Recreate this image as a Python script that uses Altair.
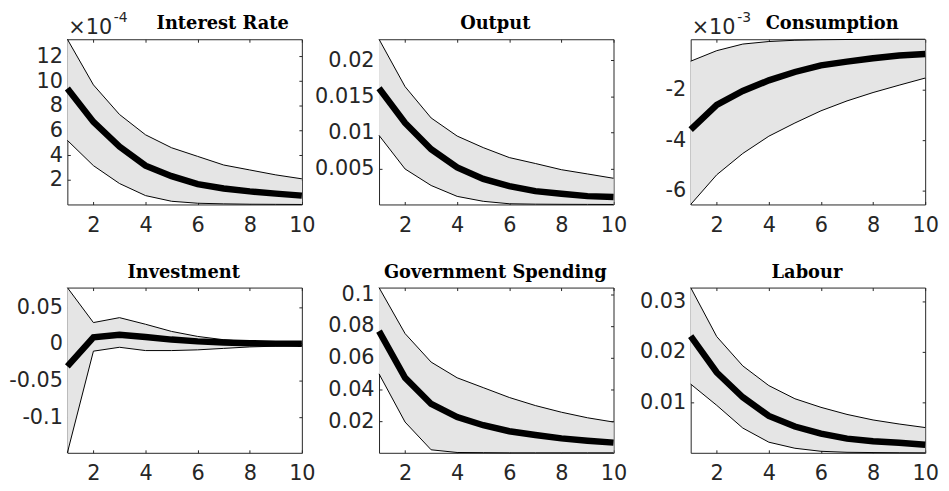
import altair as alt
import pandas as pd

steps = list(range(1, 11))

# Interest Rate (values in units of 1e-4)
ir_mean = [9.4, 6.7, 4.7, 3.15, 2.3, 1.65, 1.3, 1.06, 0.88, 0.72]
ir_low = [5.2, 3.15, 1.7, 0.72, 0.26, 0.1, 0.05, 0.02, 0.01, 0.0]
ir_up = [13.4, 9.7, 7.3, 5.65, 4.6, 3.9, 3.2, 2.8, 2.4, 2.08]
ir_ticks = [2, 4, 6, 8, 10, 12]

# Output
out_mean = [0.0161, 0.0113, 0.00766, 0.00514, 0.00355, 0.00253, 0.00185, 0.00149, 0.00116, 0.00103]
out_low = [0.00958, 0.00492, 0.00263, 0.00112, 0.00044, 0.0001, 0.00004, 0.00002, 0.00001, 0.0]
out_up = [0.0229, 0.01633, 0.01199, 0.00948, 0.00788, 0.0065, 0.00568, 0.00482, 0.00423, 0.00363]
out_ticks = [0.005, 0.01, 0.015, 0.02]

# Consumption (values in units of 1e-3)
con_mean = [-3.58, -2.61, -2.06, -1.64, -1.31, -1.05, -0.90, -0.77, -0.66, -0.60]
con_low = [-6.53, -5.36, -4.52, -3.84, -3.32, -2.84, -2.45, -2.12, -1.83, -1.55]
con_up = [-0.885, -0.47, -0.21, -0.11, -0.06, -0.04, -0.03, -0.025, -0.02, -0.02]
con_ticks = [-6, -4, -2]

# Investment
inv_mean = [-0.0305, 0.009, 0.0125, 0.0095, 0.006, 0.0035, 0.002, 0.001, 0.0005, 0.0003]
inv_low = [-0.1484, -0.0098, -0.0045, -0.009, -0.009, -0.008, -0.006, -0.004, -0.003, -0.002]
inv_up = [0.0769, 0.0292, 0.0359, 0.0269, 0.0171, 0.0103, 0.0058, 0.003, 0.0015, 0.001]
inv_ticks = [-0.1, -0.05, 0, 0.05]

# Government Spending
gov_mean = [0.0767, 0.0473, 0.0308, 0.0225, 0.0174, 0.0136, 0.0112, 0.0091, 0.0076, 0.0064]
gov_low = [0.0498, 0.0194, 0.0019, 0.0002, 0.0001, 0.0, 0.0, 0.0, 0.0, 0.0]
gov_up = [0.1042, 0.0752, 0.0572, 0.0473, 0.0411, 0.0349, 0.0298, 0.0256, 0.0221, 0.0194]
gov_ticks = [0.02, 0.04, 0.06, 0.08, 0.1]

# Labour
lab_mean = [0.0231, 0.0159, 0.0110, 0.0073, 0.0052, 0.0038, 0.0028, 0.0023, 0.0020, 0.0016]
lab_low = [0.0136, 0.0094, 0.0049, 0.0021, 0.0009, 0.0003, 0.0001, 0.00005, 0.00002, 0.0]
lab_up = [0.0327, 0.0230, 0.0172, 0.0133, 0.0107, 0.0090, 0.0076, 0.0065, 0.0057, 0.0050]
lab_ticks = [0.01, 0.02, 0.03]

x_ticks = [2, 4, 6, 8, 10]

AX = "#262626"
TICK = 3
W, H = 237, 167
SANS = "DejaVu Sans"


def panel(name, mean, low, up, yticks, title_x=117.5, exponent=None):
    df = pd.DataFrame({"h": steps, "mean": mean, "low": low, "up": up})
    base = alt.Chart(df)
    xs = alt.Scale(domain=[1, 10], nice=False, zero=False)
    ys = alt.Scale(nice=False, zero=False)
    x_axis = alt.Axis(values=x_ticks, title=None, domain=False, tickSize=TICK, offset=-TICK,
                      labelPadding=10, labelFlush=False, labelOverlap=False)
    y_axis = alt.Axis(values=yticks, title=None, domain=False, tickSize=TICK, offset=-TICK,
                      labelPadding=5, labelFlush=False, labelOverlap=False,
                      labelExpr="'' + datum.value")
    area = base.mark_area(color="#e5e5e5", opacity=1).encode(
        x=alt.X("h:Q", scale=xs, axis=x_axis),
        y=alt.Y("low:Q", scale=ys, axis=y_axis),
        y2="up:Q",
    )
    lo = base.mark_line(color="black", strokeWidth=1).encode(
        x=alt.X("h:Q", axis=None), y=alt.Y("low:Q", axis=None))
    hi = base.mark_line(color="black", strokeWidth=1).encode(
        x=alt.X("h:Q", axis=None), y=alt.Y("up:Q", axis=None))
    mn = base.mark_line(color="black", strokeWidth=6.5).encode(
        x=alt.X("h:Q", axis=None), y=alt.Y("mean:Q", axis=None))
    frame = base.mark_point(opacity=0).encode(
        x=alt.X("h:Q", axis=alt.Axis(orient="top", values=x_ticks, labels=False, title=None,
                                     domain=False, tickSize=TICK, offset=-TICK)),
        y=alt.Y("mean:Q", axis=alt.Axis(orient="right", values=yticks, labels=False, title=None,
                                        domain=False, tickSize=TICK, offset=-TICK)),
    )
    one = alt.Data(values=[{"a": 1}])
    title = alt.Chart(one).mark_text(text=name, font="DejaVu Serif", fontWeight="bold",
                                     fontSize=18, color="black", align="center",
                                     baseline="alphabetic").encode(
        x=alt.value(title_x), y=alt.value(-10))
    layers = [area, lo, hi, mn, frame, title]
    if exponent is not None:
        t1 = alt.Chart(one).mark_text(text="×10", font=SANS, fontSize=21,
                                      color=AX, align="left", baseline="alphabetic").encode(
            x=alt.value(1), y=alt.value(-5))
        t2 = alt.Chart(one).mark_text(text=exponent, font=SANS, fontSize=14,
                                      color=AX, align="left", baseline="alphabetic").encode(
            x=alt.value(47), y=alt.value(-17))
        layers += [t1, t2]
    return alt.layer(*layers).resolve_axis(x="independent", y="independent").properties(
        width=W, height=H)


panels = [
    panel("Interest Rate", ir_mean, ir_low, ir_up, ir_ticks, title_x=157, exponent="-4"),
    panel("Output", out_mean, out_low, out_up, out_ticks),
    panel("Consumption", con_mean, con_low, con_up, con_ticks, title_x=143, exponent="-3"),
    panel("Investment", inv_mean, inv_low, inv_up, inv_ticks),
    panel("Government Spending", gov_mean, gov_low, gov_up, gov_ticks),
    panel("Labour", lab_mean, lab_low, lab_up, lab_ticks),
]

chart = alt.concat(*panels, columns=3, spacing=alt.RowColnumber(row=84, column=78),
                   bounds="flush").properties(
    padding={"left": 0, "top": 0, "right": 2, "bottom": 2}
).configure_view(stroke=AX, strokeWidth=1).configure_axis(
    labelFont=SANS, labelFontSize=21, labelColor=AX, tickColor=AX, tickWidth=1,
    grid=False,
)

chart.save("out.html", embed_options={"renderer": "svg", "actions": False})
